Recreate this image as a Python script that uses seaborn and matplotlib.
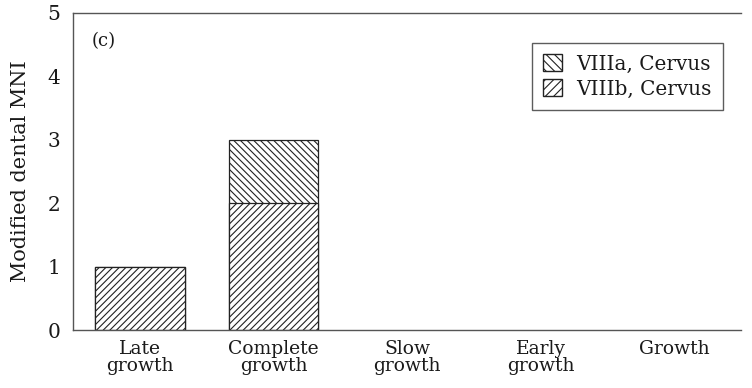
import matplotlib
matplotlib.use("Agg")
import matplotlib.pyplot as plt
import seaborn as sns
import pandas as pd
from matplotlib.patches import Patch

categories = ["Late\ngrowth", "Complete\ngrowth", "Slow\ngrowth", "Early\ngrowth", "Growth"]
viiia_cervus = [0, 1, 0, 0, 0]
viiib_cervus = [1, 2, 0, 0, 0]

sns.set_style("white")
plt.rcParams["font.family"] = ["DejaVu Serif"]
plt.rcParams["hatch.linewidth"] = 0.8
plt.rcParams["text.color"] = "#1a1a1a"
plt.rcParams["xtick.labelcolor"] = "#1a1a1a"
plt.rcParams["ytick.labelcolor"] = "#1a1a1a"
plt.rcParams["axes.labelcolor"] = "#1a1a1a"

df = pd.DataFrame({
    "stage": categories,
    "total": [a + b for a, b in zip(viiia_cervus, viiib_cervus)],
    "lower": viiib_cervus,
})

fig = plt.figure(figsize=(7.52, 3.88), dpi=100)
ax = fig.add_axes([73 / 752, 58 / 388, (741 - 73) / 752, (330 - 13) / 388])

# Stacked bars: full height (VIIIa hatch), then VIIIb drawn over the lower part
sns.barplot(data=df, x="stage", y="total", ax=ax, color="white", width=0.67,
            edgecolor="#222222", linewidth=0.9, hatch="\\\\\\\\\\", errorbar=None)
sns.barplot(data=df, x="stage", y="lower", ax=ax, color="white", width=0.67,
            edgecolor="#222222", linewidth=0.9, hatch="/////", errorbar=None)

# empty stages carry no visible bar outline
for p in ax.patches:
    if p.get_height() == 0:
        p.set_visible(False)

ax.set_xlim(-0.5, 4.5)
ax.set_ylim(0, 5)
ax.set_yticks([0, 1, 2, 3, 4, 5])
ax.set_xticks([0.5, 1.5, 2.5, 3.5], minor=True)
ax.set_xticks(range(5))
ax.set_xticklabels(categories, fontsize=13.5, linespacing=0.98)
ax.tick_params(axis="x", which="major", length=0, pad=7)
ax.tick_params(axis="x", which="minor", direction="in", length=5, width=0.8, color="#333333")
ax.tick_params(axis="y", direction="in", length=8, width=0.8, color="#333333",
               labelsize=14.5, pad=9)
ax.set_xlabel("")
ax.set_ylabel("Modified dental MNI", fontsize=15, labelpad=13)

for side in ["left", "bottom", "top"]:
    ax.spines[side].set_visible(True)
    ax.spines[side].set_color("#555555")
    ax.spines[side].set_linewidth(1.0)
ax.spines["right"].set_visible(False)

ax.text(0.028, 0.895, "(c)", transform=ax.transAxes, fontsize=13)

handles = [
    Patch(facecolor="white", edgecolor="#222222", hatch="\\\\\\\\", label="VIIIa, Cervus"),
    Patch(facecolor="white", edgecolor="#222222", hatch="////", label="VIIIb, Cervus"),
]
leg = ax.legend(handles=handles, loc="upper right", bbox_to_anchor=(0.973, 0.905),
                fontsize=14.4, frameon=True, fancybox=False, handlelength=0.95,
                handleheight=0.95, handletextpad=0.75, borderpad=0.55,
                labelspacing=0.28, borderaxespad=0)
leg.get_frame().set_edgecolor("#333333")
leg.get_frame().set_linewidth(1.0)

fig.savefig("out.png", dpi=100)
